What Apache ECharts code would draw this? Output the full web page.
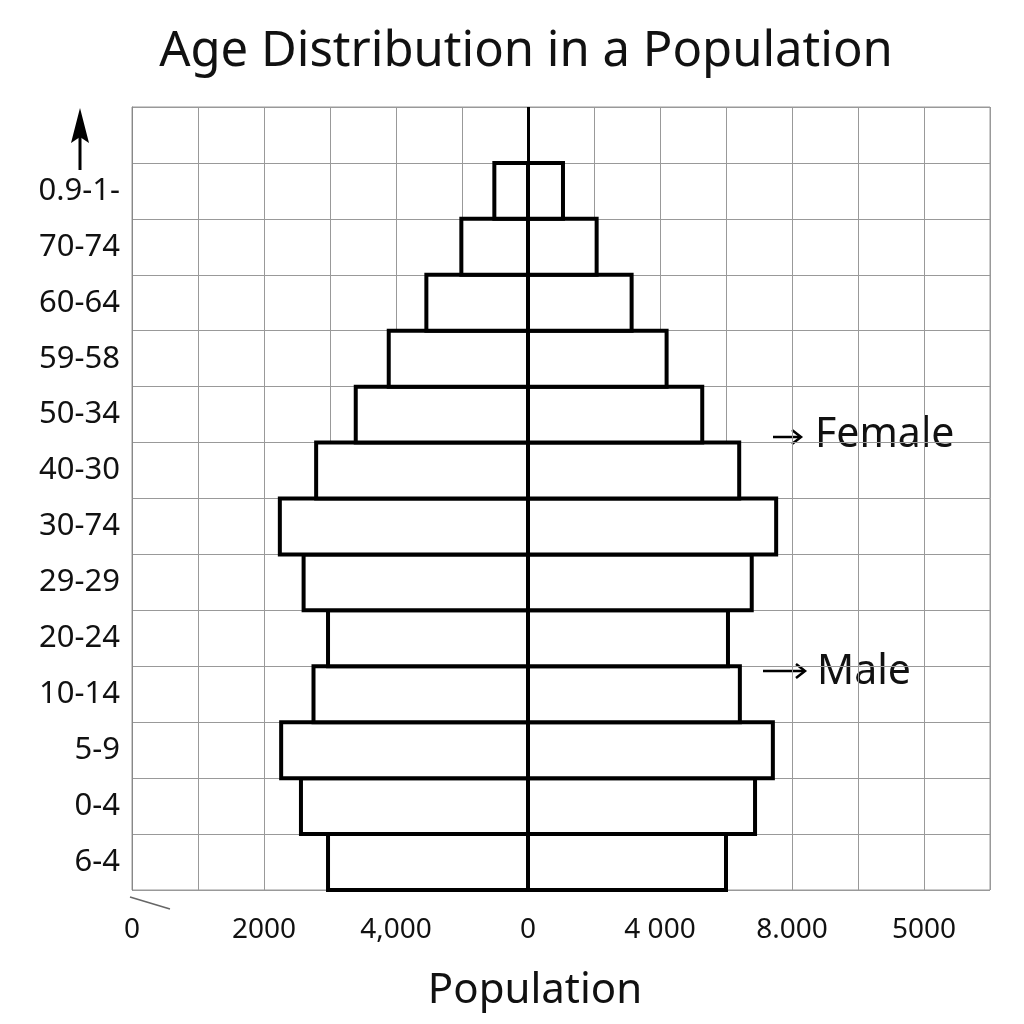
<!DOCTYPE html>
<html>
<head>
<meta charset="utf-8">
<script src="https://cdn.jsdelivr.net/npm/echarts@6/dist/echarts.min.js"></script>
<style>
  html, body { margin: 0; padding: 0; background: #fff; }
  #main { width: 1024px; height: 1024px; }
</style>
</head>
<body>
<div id="main"></div>
<script>
// age groups, bottom to top (top row left empty for the arrow)
var ageGroups = ["6-4", "0-4", "5-9", "10-14", "20-24", "29-29", "30-74",
    "40-30", "50-34", "59-58", "60-64", "70-74", "0.9-1-", ""];
// left side (drawn negative)
var maleValues = [3030, 3440, 3740, 3250, 3030, 3400, 3760,
    3210, 2610, 2110, 1540, 1010, 510, null];
// right side
var femaleValues = [3000, 3440, 3710, 3210, 3030, 3390, 3760,
    3200, 2640, 2100, 1570, 1040, 530, null];
// x tick values and the labels printed under them
var xTickValues = [-6000, -4000, -2000, 0, 2000, 4000, 6000];
var xTickLabels = ["0", "2000", "4,000", "0", "4 000", "8.000", "5000"];

var FONT = "Noto Sans";

var chart = echarts.init(document.getElementById("main"));

// one row = [category index, male, female]
var rows = [];
for (var i = 0; i < ageGroups.length; i++) {
    if (maleValues[i] == null) continue;
    rows.push([i, maleValues[i], femaleValues[i]]);
}

// two outlined boxes per row, meeting on the zero line
function renderPyramid(params, api) {
    var idx = api.value(0);
    var pL = api.coord([-api.value(1), idx]);
    var p0 = api.coord([0, idx]);
    var pR = api.coord([api.value(2), idx]);
    var h = api.size([0, 1])[1];
    var y = p0[1] - h / 2;
    var style = { fill: "#fff", stroke: "#000", lineWidth: 4 };
    return {
        type: "group",
        children: [
            { type: "rect", shape: { x: pL[0], y: y, width: p0[0] - pL[0], height: h }, style: style },
            { type: "rect", shape: { x: p0[0], y: y, width: pR[0] - p0[0], height: h }, style: style }
        ]
    };
}

var option = {
    backgroundColor: "#fff",
    animation: false,
    title: {
        text: "Age Distribution in a Population",
        left: 521,
        textAlign: "center",
        top: 23,
        textStyle: { fontFamily: FONT, fontSize: 49, fontWeight: "normal", color: "#111" }
    },
    grid: {
        left: 132, right: 34, top: 107, bottom: 134,
        show: true, borderColor: "#999", borderWidth: 1
    },
    xAxis: {
        type: "value",
        min: -6000, max: 7000, interval: 1000,
        axisLine: { show: false },
        axisTick: { show: false },
        splitLine: { show: true, lineStyle: { color: "#999", width: 1 } },
        axisLabel: {
            margin: 26,
            fontFamily: FONT, fontSize: 28, color: "#111",
            formatter: function (v) {
                var i = xTickValues.indexOf(v);
                return i < 0 ? "" : xTickLabels[i];
            }
        },
        name: "Population",
        nameLocation: "middle",
        nameGap: 80,
        nameTextStyle: { fontFamily: FONT, fontSize: 42, color: "#111", padding: [0, 52, 0, 0] }
    },
    yAxis: {
        type: "category",
        data: ageGroups,
        axisLine: { onZero: false, lineStyle: { color: "#888", width: 1 } },
        axisTick: { show: false },
        splitLine: { show: true, lineStyle: { color: "#999", width: 1 } },
        axisLabel: { margin: 12, fontFamily: FONT, fontSize: 31, color: "#111", padding: [10, 0, 0, 0] }
    },
    series: [
        {
            name: "Population",
            type: "custom",
            renderItem: renderPyramid,
            encode: { x: [1, 2], y: 0 },
            data: rows,
            markLine: {
                silent: true,
                symbol: "none",
                label: { show: false },
                lineStyle: { color: "#000", width: 3, type: "solid" },
                data: [{ xAxis: 0 }]
            }
        }
    ],
    graphic: [
        // arrow above the labels
        { type: "line", shape: { x1: 80, y1: 170, x2: 80, y2: 130 }, style: { stroke: "#000", lineWidth: 3 } },
        { type: "polygon", shape: { points: [[80, 108], [71, 143], [80, 137], [89, 143]] }, style: { fill: "#000" } },
        // small stroke under the corner
        { type: "line", shape: { x1: 130, y1: 897, x2: 170, y2: 909 }, style: { stroke: "#666", lineWidth: 1.5 } },
        // Female note
        { type: "line", shape: { x1: 773, y1: 437, x2: 800, y2: 437 }, style: { stroke: "#000", lineWidth: 2.5 } },
        { type: "polyline", shape: { points: [[792, 430], [801, 437], [792, 444]] }, style: { stroke: "#000", lineWidth: 2.5, fill: null } },
        { type: "text", left: 815, top: 415, style: { text: "Female", fontFamily: FONT, fontSize: 41, fill: "#111" } },
        // Male note
        { type: "line", shape: { x1: 763, y1: 671, x2: 804, y2: 671 }, style: { stroke: "#000", lineWidth: 2.5 } },
        { type: "polyline", shape: { points: [[796, 664], [805, 671], [796, 678]] }, style: { stroke: "#000", lineWidth: 2.5, fill: null } },
        { type: "text", left: 817, top: 652, style: { text: "Male", fontFamily: FONT, fontSize: 41, fill: "#111" } }
    ]
};

chart.setOption(option);
</script>
</body>
</html>
